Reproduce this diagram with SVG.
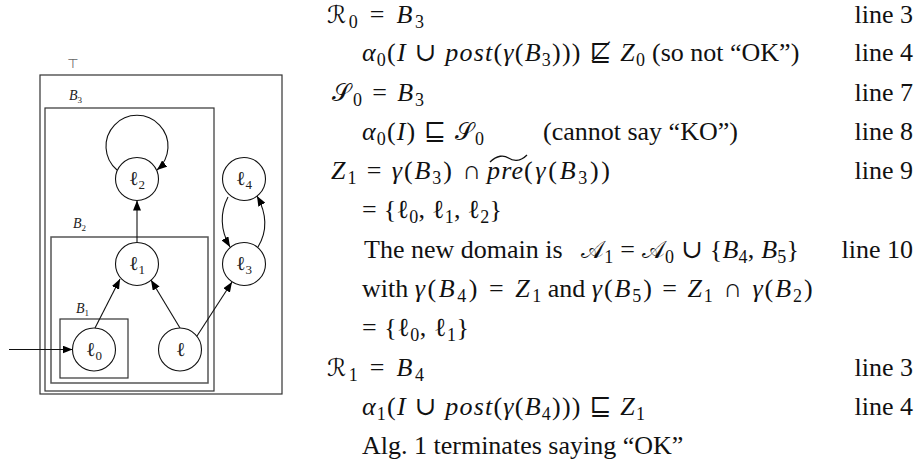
<svg xmlns="http://www.w3.org/2000/svg" width="920" height="472" viewBox="0 0 920 472">
<style>
.t{font-family:"Liberation Serif","DejaVu Serif",serif;font-size:26px;fill:#111}
.i{font-style:italic}
.s{font-size:18px;font-style:normal}
.c{font-family:"DejaVu Serif","DejaVu Sans",serif;font-style:normal;font-size:24px}
.box{fill:none;stroke:#333;stroke-width:1.2}
.nd{fill:#fff;stroke:#111;stroke-width:1.1}
.nl{font-family:"Liberation Serif","DejaVu Serif",serif;font-size:20px;fill:#222}
.ns{font-size:13px}
.bl{font-family:"Liberation Serif","DejaVu Serif",serif;font-size:14px;font-style:italic;fill:#222}
.bs{font-size:9px;font-style:normal}
.e{fill:none;stroke:#111;stroke-width:1.1}
.tl{fill:none;stroke:#111;stroke-width:1.3}
</style>
<defs>
<marker id="ah" viewBox="0 0 10 8" refX="10" refY="4" markerWidth="10" markerHeight="8" markerUnits="userSpaceOnUse" orient="auto"><path d="M0,0 L10,4 L0,8 z" fill="#000"/></marker>
</defs>
<g id="boxes">
<rect id="top" class="box" x="40" y="75" width="242" height="319"/>
<text x="73" y="68" text-anchor="middle" style="font-family:'DejaVu Sans',sans-serif;font-size:13px;fill:#666">⊤</text>
<rect id="B3" class="box" x="45" y="108" width="169" height="283"/>
<text class="bl" x="69" y="100">B<tspan class="bs" dy="3">3</tspan></text>
<rect id="B2" class="box" x="51" y="237" width="157" height="146" style="stroke:#555;stroke-width:1.5"/>
<text class="bl" x="73" y="228">B<tspan class="bs" dy="3">2</tspan></text>
<rect id="B1" class="box" x="60" y="319" width="68" height="59"/>
<text class="bl" x="76" y="313">B<tspan class="bs" dy="3">1</tspan></text>
</g>
<g id="connectors">
<path class="e" d="M9,349.5 L72.5,349.5" marker-end="url(#ah)"/>
<path class="e" d="M137,242.5 L137,200.5" marker-end="url(#ah)"/>
<path class="e" d="M117,170 A31,31 0 1,1 157,170" marker-end="url(#ah)"/>
<path class="e" d="M95,328 L120,279" marker-end="url(#ah)"/>
<path class="e" d="M180,328 L151,280" marker-end="url(#ah)"/>
<path class="e" d="M197,336 L232,282" marker-end="url(#ah)"/>
<path class="e" d="M228,197 C220,212 220,230 230,247" marker-end="url(#ah)"/>
<path class="e" d="M258,247 C267,232 267,214 257,196" marker-end="url(#ah)"/>
</g>
<g id="n_l2"><circle class="nd" cx="137" cy="179" r="21.5"/><text class="nl" x="129" y="185">ℓ<tspan class="ns" dy="4">2</tspan></text></g>
<g id="n_l4"><circle class="nd" cx="244" cy="179" r="21.5"/><text class="nl" x="236" y="185">ℓ<tspan class="ns" dy="4">4</tspan></text></g>
<g id="n_l1"><circle class="nd" cx="137" cy="264" r="21.5"/><text class="nl" x="129" y="270">ℓ<tspan class="ns" dy="4">1</tspan></text></g>
<g id="n_l3"><circle class="nd" cx="244" cy="264" r="21.5"/><text class="nl" x="236" y="270">ℓ<tspan class="ns" dy="4">3</tspan></text></g>
<g id="n_l0"><circle class="nd" cx="94" cy="349.5" r="21.5"/><text class="nl" x="86" y="355.5">ℓ<tspan class="ns" dy="4">0</tspan></text></g>
<g id="n_l"><circle class="nd" cx="180" cy="349.5" r="21.5"/><text class="nl" x="176" y="356">ℓ</text></g>
<g id="text">
<text class="t" x="327" y="23" textLength="97" lengthAdjust="spacing" xml:space="preserve"><tspan class="c">ℛ</tspan><tspan class="s" dy="5">0</tspan><tspan dy="-5"> = </tspan><tspan class="i">B</tspan><tspan class="s" dy="5">3</tspan></text>
<text class="t" x="913" y="23" text-anchor="end">line 3</text>
<text class="t" x="362" y="61" textLength="283" lengthAdjust="spacing" xml:space="preserve"><tspan class="i">α</tspan><tspan class="s" dy="5">0</tspan><tspan dy="-5">(</tspan><tspan class="i">I</tspan> ∪ <tspan class="i">post</tspan>(<tspan class="i">γ</tspan>(<tspan class="i">B</tspan><tspan class="s" dy="5">3</tspan><tspan dy="-5">))) ⋢ </tspan><tspan class="i">Z</tspan><tspan class="s" dy="5">0</tspan></text>
<text class="t" x="652" y="61">(so not “OK”)</text>
<text class="t" x="913" y="61" text-anchor="end">line 4</text>
<text class="t" x="332" y="101" textLength="92" lengthAdjust="spacing" xml:space="preserve"><tspan class="c">𝒮</tspan><tspan class="s" dy="5">0</tspan><tspan dy="-5"> = </tspan><tspan class="i">B</tspan><tspan class="s" dy="5">3</tspan></text>
<text class="t" x="913" y="101" text-anchor="end">line 7</text>
<text class="t" x="362" y="140" textLength="122" lengthAdjust="spacing" xml:space="preserve"><tspan class="i">α</tspan><tspan class="s" dy="5">0</tspan><tspan dy="-5">(</tspan><tspan class="i">I</tspan>) ⊑ <tspan class="c">𝒮</tspan><tspan class="s" dy="5">0</tspan></text>
<text class="t" x="543" y="140">(cannot say “KO”)</text>
<text class="t" x="913" y="140" text-anchor="end">line 8</text>
<text class="t" x="331" y="179" textLength="150" lengthAdjust="spacing" xml:space="preserve"><tspan class="i">Z</tspan><tspan class="s" dy="5">1</tspan><tspan dy="-5"> = </tspan><tspan class="i">γ</tspan>(<tspan class="i">B</tspan><tspan class="s" dy="5">3</tspan><tspan dy="-5">) ∩</tspan></text>
<text class="t i" x="487" y="179" textLength="36" lengthAdjust="spacing">pre</text>
<path class="tl" d="M490,162 C497,155 504,155 508.5,158 C513,161 520,162 527,155"/>
<text class="t" x="524" y="179" textLength="86" lengthAdjust="spacing" xml:space="preserve">(<tspan class="i">γ</tspan>(<tspan class="i">B</tspan><tspan class="s" dy="5">3</tspan><tspan dy="-5">))</tspan></text>
<text class="t" x="913" y="179" text-anchor="end">line 9</text>
<text class="t" x="362" y="218" textLength="140" lengthAdjust="spacing" xml:space="preserve">= {ℓ<tspan class="s" dy="5">0</tspan><tspan dy="-5">, ℓ</tspan><tspan class="s" dy="5">1</tspan><tspan dy="-5">, ℓ</tspan><tspan class="s" dy="5">2</tspan><tspan dy="-5">}</tspan></text>
<text class="t" x="364" y="258">The new domain is</text>
<text class="t" x="581" y="258" textLength="218" lengthAdjust="spacing" xml:space="preserve"><tspan class="c">𝒜</tspan><tspan class="s" dy="5">1</tspan><tspan dy="-5"> = </tspan><tspan class="c">𝒜</tspan><tspan class="s" dy="5">0</tspan><tspan dy="-5"> ∪ {</tspan><tspan class="i">B</tspan><tspan class="s" dy="5">4</tspan><tspan dy="-5">, </tspan><tspan class="i">B</tspan><tspan class="s" dy="5">5</tspan><tspan dy="-5">}</tspan></text>
<text class="t" x="913" y="258" text-anchor="end">line 10</text>
<text class="t" x="362" y="297">with</text>
<text class="t" x="414.7" y="297" textLength="126.5" lengthAdjust="spacing" xml:space="preserve"><tspan class="i">γ</tspan>(<tspan class="i">B</tspan><tspan class="s" dy="5">4</tspan><tspan dy="-5">) = </tspan><tspan class="i">Z</tspan><tspan class="s" dy="5">1</tspan></text>
<text class="t" x="547.7" y="297">and</text>
<text class="t" x="591.7" y="297" textLength="221" lengthAdjust="spacing" xml:space="preserve"><tspan class="i">γ</tspan>(<tspan class="i">B</tspan><tspan class="s" dy="5">5</tspan><tspan dy="-5">) = </tspan><tspan class="i">Z</tspan><tspan class="s" dy="5">1</tspan><tspan dy="-5"> ∩ </tspan><tspan class="i">γ</tspan>(<tspan class="i">B</tspan><tspan class="s" dy="5">2</tspan><tspan dy="-5">)</tspan></text>
<text class="t" x="362" y="336" textLength="107" lengthAdjust="spacing" xml:space="preserve">= {ℓ<tspan class="s" dy="5">0</tspan><tspan dy="-5">, ℓ</tspan><tspan class="s" dy="5">1</tspan><tspan dy="-5">}</tspan></text>
<text class="t" x="327" y="376" textLength="97" lengthAdjust="spacing" xml:space="preserve"><tspan class="c">ℛ</tspan><tspan class="s" dy="5">1</tspan><tspan dy="-5"> = </tspan><tspan class="i">B</tspan><tspan class="s" dy="5">4</tspan></text>
<text class="t" x="913" y="376" text-anchor="end">line 3</text>
<text class="t" x="362" y="415" textLength="283" lengthAdjust="spacing" xml:space="preserve"><tspan class="i">α</tspan><tspan class="s" dy="5">1</tspan><tspan dy="-5">(</tspan><tspan class="i">I</tspan> ∪ <tspan class="i">post</tspan>(<tspan class="i">γ</tspan>(<tspan class="i">B</tspan><tspan class="s" dy="5">4</tspan><tspan dy="-5">))) ⊑ </tspan><tspan class="i">Z</tspan><tspan class="s" dy="5">1</tspan></text>
<text class="t" x="913" y="415" text-anchor="end">line 4</text>
<text class="t" x="362" y="454">Alg. 1 terminates saying “OK”</text>
</g>
</svg>
